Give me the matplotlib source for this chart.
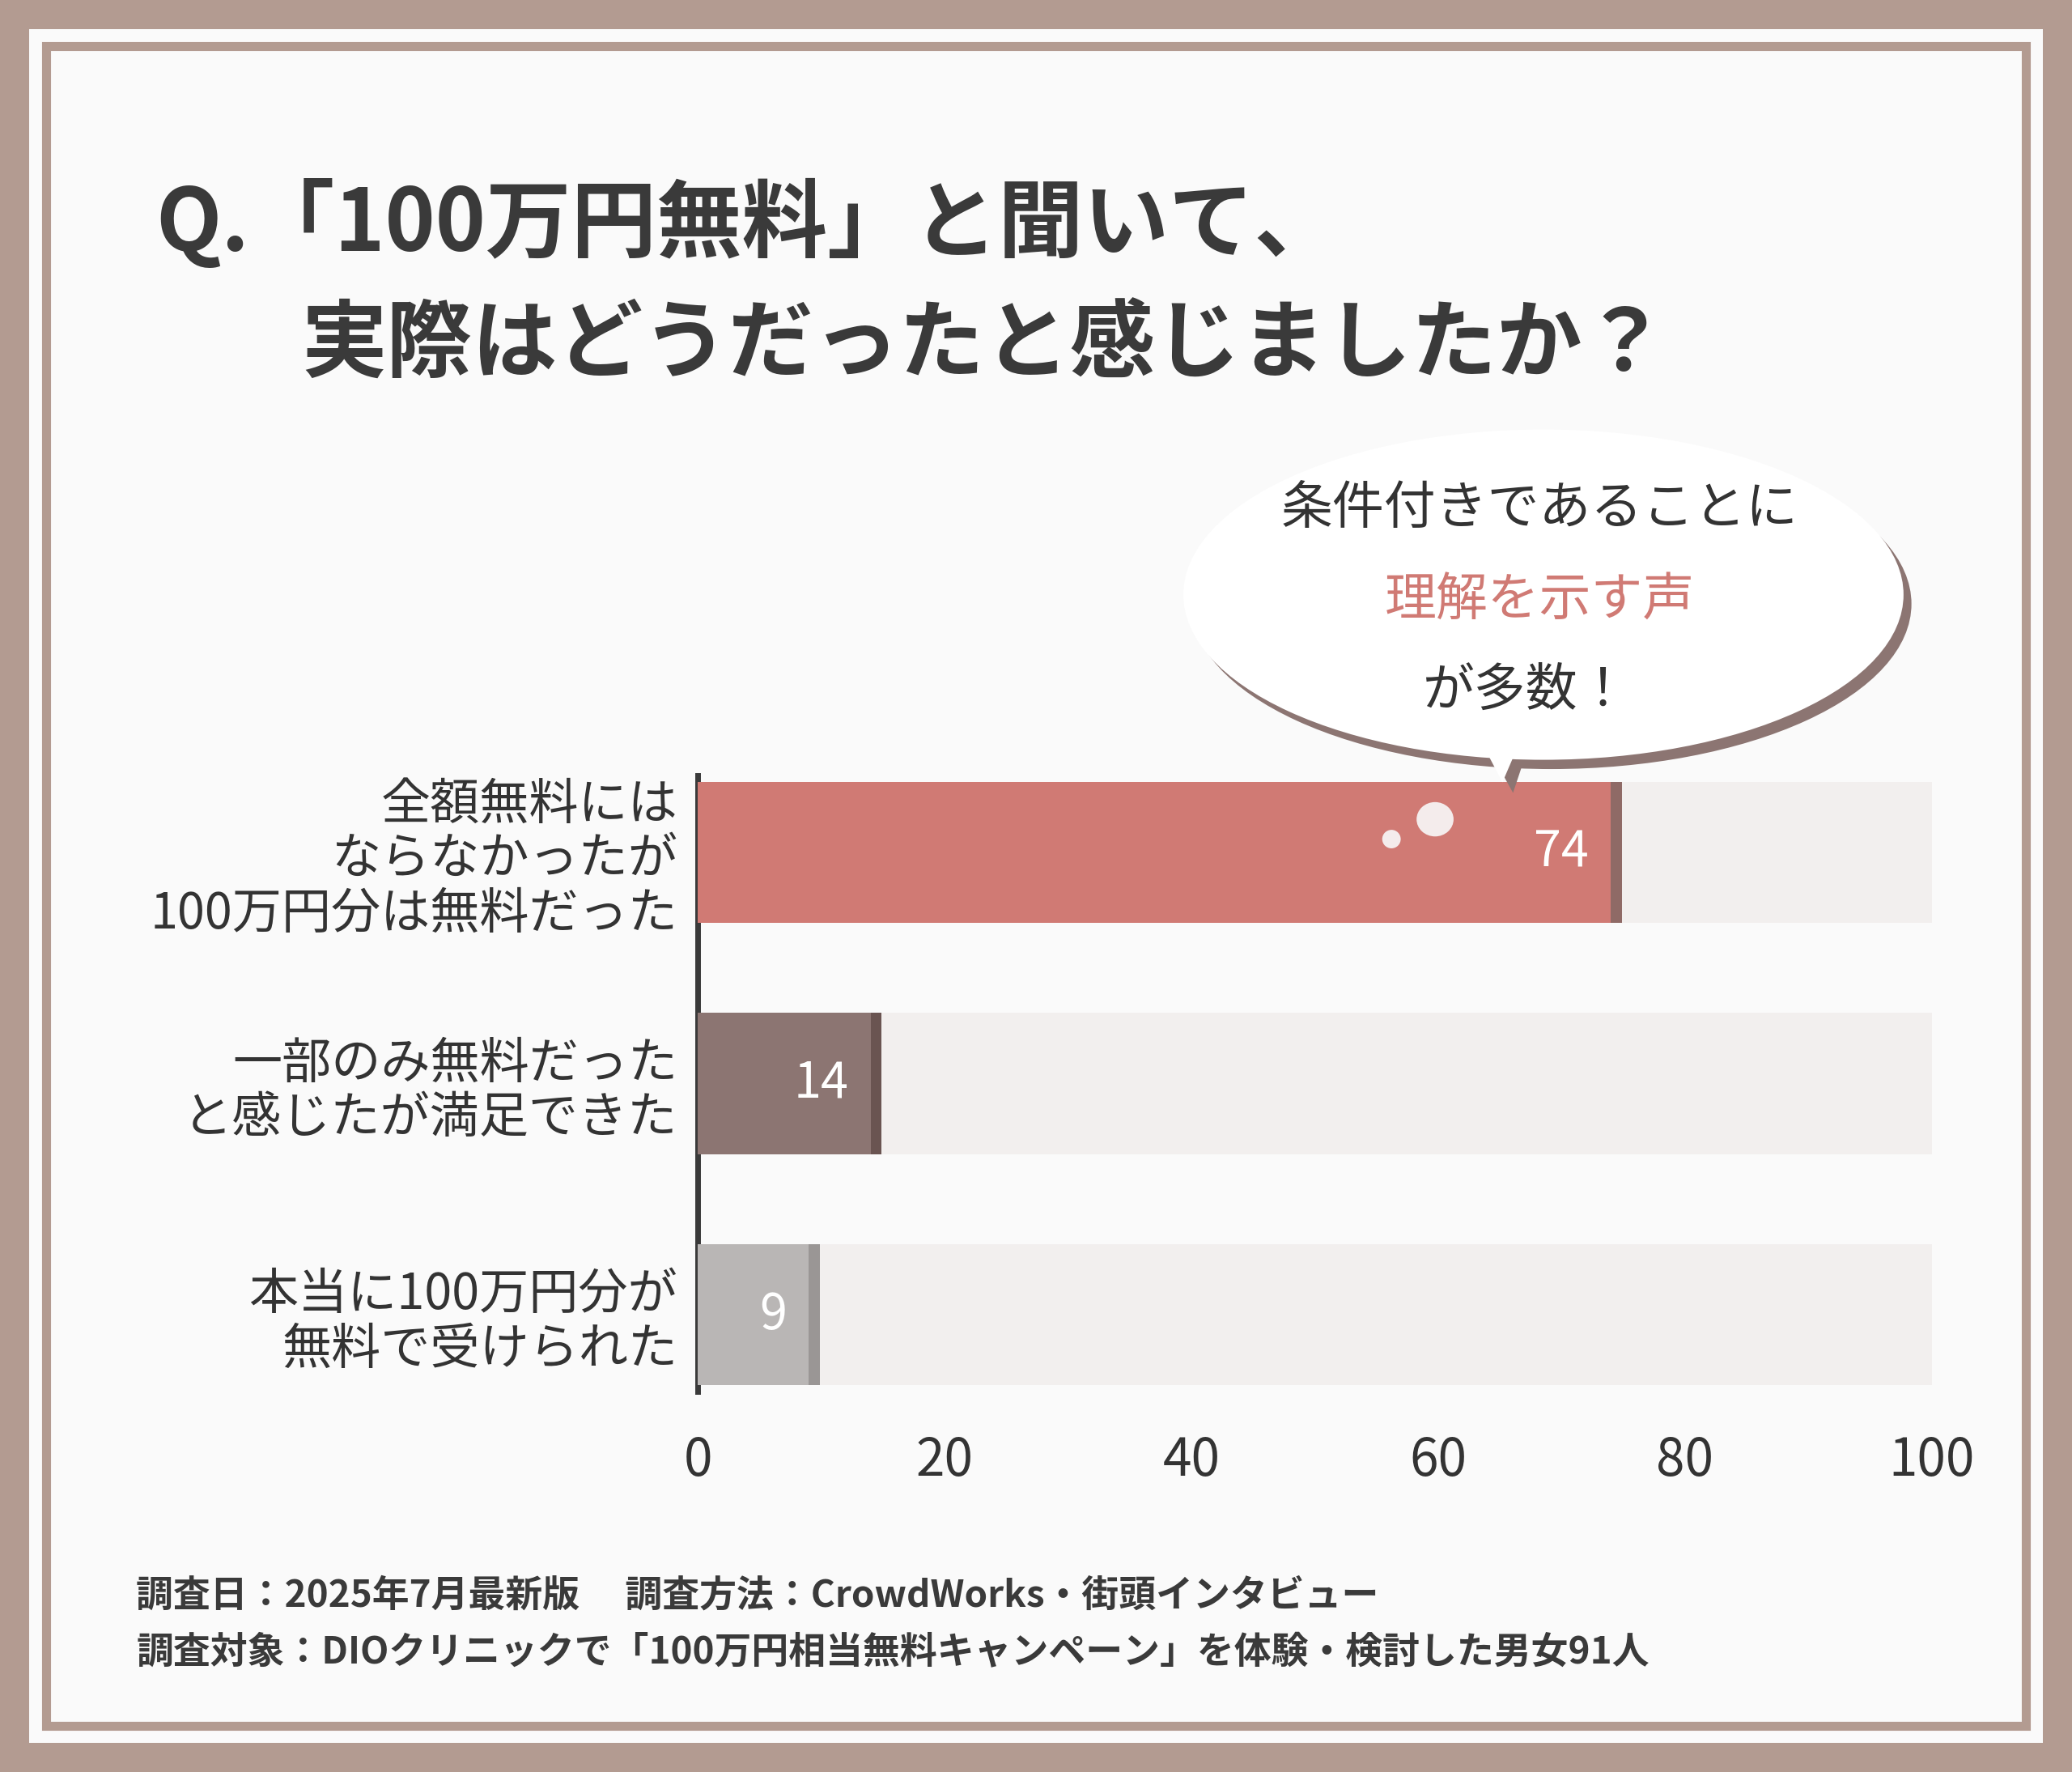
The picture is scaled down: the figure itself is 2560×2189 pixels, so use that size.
import matplotlib
matplotlib.use("Agg")
import matplotlib.pyplot as plt
from matplotlib.patches import Rectangle, Ellipse, Polygon

plt.rcParams["font.family"] = "Noto Sans CJK JP"

categories = ["全額無料には\nならなかったが\n100万円分は無料だった",
              "一部のみ無料だった\nと感じたが満足できた",
              "本当に100万円分が\n無料で受けられた"]
values = [74, 14, 9]
ticks = [0, 20, 40, 60, 80, 100]
colors = ["#d07a74", "#8c7572", "#b9b6b5"]
shadows = ["#8f6a66", "#6a5451", "#9a9695"]

W, H = 1568, 1341
fig = plt.figure(figsize=(25.6, 21.89), dpi=100)
fig.patch.set_facecolor("#b39b91")

def fx(x): return x / W
def fy(y): return 1 - y / H

fig.patches.append(Rectangle((fx(22), fy(1319)), fx(1546) - fx(22), fy(22) - fy(1319),
                             transform=fig.transFigure, facecolor="#fafafa", edgecolor="none", zorder=-2))
fig.patches.append(Rectangle((fx(35), fy(1306)), fx(1533) - fx(35), fy(35) - fy(1306),
                             transform=fig.transFigure, facecolor="none", edgecolor="#b39b91", linewidth=8, zorder=-1))

fig.text(fx(118), fy(170), "Q.「100万円無料」と聞いて、", fontsize=76, fontweight="bold",
         color="#3a3a3a", va="center", ha="left")
fig.text(fx(228), fy(262), "実際はどうだったと感じましたか？", fontsize=76, fontweight="bold",
         color="#3a3a3a", va="center", ha="left")

ax = fig.add_axes([fx(528), fy(1060), fx(1462) - fx(528), fy(580) - fy(1060)])
ax.set_zorder(5)
ax.patch.set_alpha(0)
ypos = list(range(len(values)))
ax.barh(ypos, [100] * 3, height=0.61, color="#f2efee", zorder=1)
ax.barh(ypos, [v + 0.9 for v in values], height=0.61, color=shadows, zorder=2)
ax.barh(ypos, values, height=0.61, color=colors, zorder=3)
for y, v in zip(ypos, values):
    ax.text(v - 1.8, y, str(v), color="white", fontsize=44, ha="right", va="center", zorder=4)
ax.set_xlim(0, 100)
ax.set_ylim(2.371, -0.371)
ax.set_xticks(ticks)
ax.set_xticklabels([str(t) for t in ticks], fontsize=46, color="#333333")
ax.set_yticks(ypos)
ax.set_yticklabels(categories, fontsize=44, color="#333333", linespacing=1.1)
ax.tick_params(length=0, pad=18)
ax.tick_params(axis="x", pad=30)
for s in ["top", "right", "bottom"]:
    ax.spines[s].set_visible(False)
ax.spines["left"].set_color("#3a3a3a")
ax.spines["left"].set_linewidth(5)
ax.spines["left"].set_bounds(-0.33, 2.33)

# speech bubble
bax = fig.add_axes([0, 0, 1, 1])
bax.set_zorder(6)
bax.patch.set_alpha(0)
bax.set_xlim(0, W); bax.set_ylim(H, 0); bax.axis("off")
bax.add_patch(Ellipse((1174, 457), 545, 250, facecolor="#8c7572", edgecolor="none", zorder=1))
bax.add_patch(Polygon([[1120, 555], [1160, 555], [1145, 600]], facecolor="#8c7572", zorder=1))
bax.add_patch(Ellipse((1168, 450), 545, 250, facecolor="white", edgecolor="none", zorder=2))
bax.add_patch(Polygon([[1115, 550], [1155, 550], [1137, 592]], facecolor="white", zorder=2))
bax.text(1165, 385, "条件付きであることに", fontsize=46, ha="center", va="center", color="#333333", zorder=3)
bax.text(1165, 455, "理解を示す声", fontsize=46, ha="center", va="center", color="#d07a74", zorder=3)
bax.text(1155, 523, "が多数！", fontsize=46, ha="center", va="center", color="#333333", zorder=3)
bax.add_patch(Ellipse((1086, 620), 28, 26, facecolor="#f4ecec", zorder=3))
bax.add_patch(Ellipse((1053, 635), 14, 14, facecolor="#f4ecec", zorder=3))

fig.text(fx(103), fy(1208), "調査日：2025年7月最新版　 調査方法：CrowdWorks・街頭インタビュー",
         fontsize=33, fontweight="bold", color="#3a3a3a", va="center")
fig.text(fx(103), fy(1251), "調査対象：DIOクリニックで「100万円相当無料キャンペーン」を体験・検討した男女91人",
         fontsize=33, fontweight="bold", color="#3a3a3a", va="center")

fig.savefig("out.png", dpi=100, facecolor=fig.get_facecolor())
